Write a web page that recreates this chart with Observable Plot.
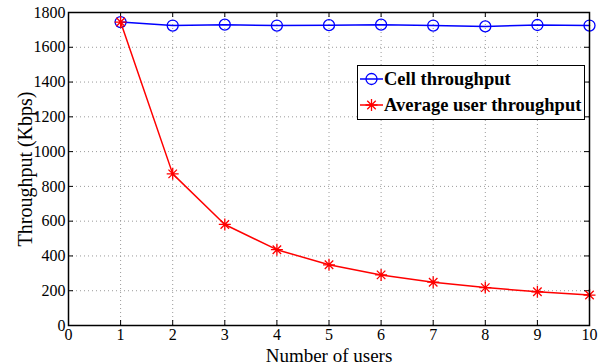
<!DOCTYPE html>
<html>
<head>
<meta charset="utf-8">
<script src="https://cdn.jsdelivr.net/npm/d3@7"></script>
<script src="https://cdn.jsdelivr.net/npm/@observablehq/plot@0.6"></script>
<style>
  html, body { margin: 0; padding: 0; background: #fff; }
  #wrap { position: relative; width: 605px; height: 364px; font-family: 'Liberation Serif', 'Times New Roman', serif; }
  #legend {
    position: absolute; left: 357px; top: 65px; width: 226px; height: 53px;
    border: 1px solid #000; background: #fff; box-sizing: content-box;
    font-family: 'Liberation Serif', 'Times New Roman', serif;
    font-weight: bold; font-size: 18.5px; color: #000;
  }
  .row { display: flex; align-items: center; height: 26px; }
  .row svg { flex: none; }
  .row span { white-space: nowrap; }
</style>
</head>
<body>
<div id="wrap"></div>
<script>
// Number of users on the cell
const users = [1, 2, 3, 4, 5, 6, 7, 8, 9, 10];
// Total cell throughput (Kbps)
const cellThroughput = [1745, 1725, 1730, 1725, 1727, 1730, 1725, 1720, 1728, 1725];
// Average per-user throughput (Kbps)
const avgUserThroughput = [1745, 872, 581, 436, 349, 291, 249, 218, 194, 175];

const seriesNames = ["Cell throughput", "Average user throughput"];
const xTicks = [0, 1, 2, 3, 4, 5, 6, 7, 8, 9, 10];
const yTicks = [0, 200, 400, 600, 800, 1000, 1200, 1400, 1600, 1800];
const xLabel = "Number of users";
const yLabel = "Throughput (Kbps)";

const cell = users.map((u, i) => ({x: u, y: cellThroughput[i]}));
const avg = users.map((u, i) => ({x: u, y: avgUserThroughput[i]}));

const W = 605, H = 364;
const mL = 68, mR = 16, mT = 12, mB = 39;
const innerH = H - mT - mB;
const innerW = W - mL - mR;
const tickLen = 5;
const font = "'Liberation Serif', 'Times New Roman', serif";

// MATLAB-style asterisk: plus + cross
const asterisk = {
  draw(context, size) {
    const r = Math.sqrt(size / Math.PI);
    const d = r * Math.SQRT1_2;
    context.moveTo(-r, 0); context.lineTo(r, 0);
    context.moveTo(0, -r); context.lineTo(0, r);
    context.moveTo(-d, -d); context.lineTo(d, d);
    context.moveTo(-d, d); context.lineTo(d, -d);
  }
};

const chart = Plot.plot({
  width: W, height: H,
  marginLeft: mL, marginRight: mR, marginTop: mT, marginBottom: mB,
  style: {fontFamily: font, color: "#000", background: "#fff"},
  x: {domain: [0, 10], axis: null},
  y: {domain: [0, 1800], axis: null},
  marks: [
    // dotted grid
    Plot.gridX(xTicks.slice(1, -1), {stroke: "#9a9a9a", strokeOpacity: 1, strokeDasharray: "1,3"}),
    Plot.gridY(yTicks.slice(1, -1), {stroke: "#9a9a9a", strokeOpacity: 1, strokeDasharray: "1,3"}),
    // inward ticks on all four sides
    Plot.tickX(xTicks, {x: d => d, insetTop: innerH - tickLen, stroke: "#000"}),
    Plot.tickX(xTicks, {x: d => d, insetBottom: innerH - tickLen, stroke: "#000"}),
    Plot.tickY(yTicks, {y: d => d, insetRight: innerW - tickLen, stroke: "#000"}),
    Plot.tickY(yTicks, {y: d => d, insetLeft: innerW - tickLen, stroke: "#000"}),
    // tick labels
    Plot.text(xTicks, {x: d => d, frameAnchor: "bottom", lineAnchor: "top", dy: 3, text: d => String(d), fontSize: 16, fontFamily: font, fill: "#000"}),
    Plot.text(yTicks, {y: d => d, frameAnchor: "left", textAnchor: "end", dx: -3, text: d => String(d), fontSize: 16, fontFamily: font, fill: "#000"}),
    // series
    Plot.line(cell, {x: "x", y: "y", stroke: "#0000ff", strokeWidth: 1.5}),
    Plot.dot(cell, {x: "x", y: "y", stroke: "#0000ff", r: 5.5, strokeWidth: 1.3, fill: "none"}),
    Plot.line(avg, {x: "x", y: "y", stroke: "#ff0000", strokeWidth: 1.5}),
    Plot.dot(avg, {x: "x", y: "y", stroke: "#ff0000", r: 6, strokeWidth: 1.3, symbol: asterisk}),
    // frame
    Plot.frame({stroke: "#000", strokeWidth: 1.5}),
    // axis titles
    Plot.text([xLabel], {frameAnchor: "bottom", text: d => d, textAnchor: "middle", lineAnchor: "bottom", dy: 36, fontSize: 19, fontFamily: font, fill: "#000"}),
    Plot.text([yLabel], {frameAnchor: "left", text: d => d, rotate: -90, textAnchor: "middle", lineAnchor: "middle", dx: -43, fontSize: 20, fontFamily: font, fill: "#000"})
  ]
});

const wrap = document.getElementById("wrap");
wrap.appendChild(chart);

// legend box
const legend = document.createElement("div");
legend.id = "legend";
const colors = ["#0000ff", "#ff0000"];
seriesNames.forEach((name, i) => {
  const row = document.createElement("div");
  row.className = "row";
  const svgNS = "http://www.w3.org/2000/svg";
  const s = document.createElementNS(svgNS, "svg");
  s.setAttribute("width", 26); s.setAttribute("height", 26);
  const line = document.createElementNS(svgNS, "line");
  line.setAttribute("x1", 2); line.setAttribute("x2", 25);
  line.setAttribute("y1", 13); line.setAttribute("y2", 13);
  line.setAttribute("stroke", colors[i]); line.setAttribute("stroke-width", 1.5);
  s.appendChild(line);
  if (i === 0) {
    const c = document.createElementNS(svgNS, "circle");
    c.setAttribute("cx", 13.5); c.setAttribute("cy", 13); c.setAttribute("r", 5.5);
    c.setAttribute("fill", "none"); c.setAttribute("stroke", colors[i]); c.setAttribute("stroke-width", 1.3);
    s.appendChild(c);
  } else {
    const p = document.createElementNS(svgNS, "path");
    const r = 6, d = r * Math.SQRT1_2, cx = 13.5, cy = 13;
    p.setAttribute("d", `M${cx - r},${cy}H${cx + r}M${cx},${cy - r}V${cy + r}M${cx - d},${cy - d}L${cx + d},${cy + d}M${cx - d},${cy + d}L${cx + d},${cy - d}`);
    p.setAttribute("stroke", colors[i]); p.setAttribute("stroke-width", 1.3);
    s.appendChild(p);
  }
  row.appendChild(s);
  const t = document.createElement("span");
  t.textContent = name;
  row.appendChild(t);
  legend.appendChild(row);
});
wrap.appendChild(legend);
</script>
</body>
</html>
